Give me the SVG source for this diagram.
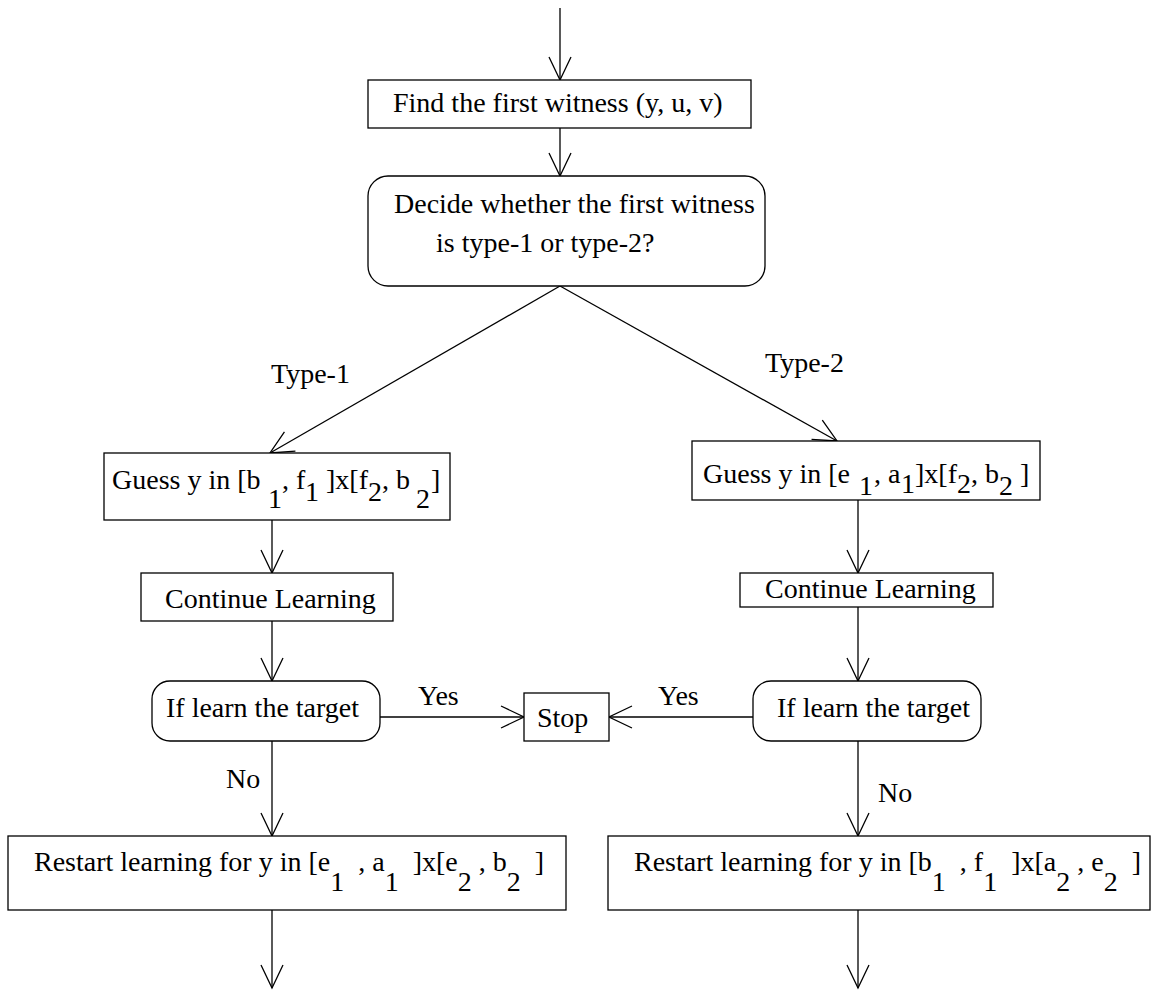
<svg xmlns="http://www.w3.org/2000/svg" width="1159" height="994" viewBox="0 0 1159 994">
<defs>
<marker id="ah" viewBox="-26 -13 28 26" refX="0" refY="0" markerWidth="28" markerHeight="26" markerUnits="userSpaceOnUse" orient="auto">
<path d="M-23,-11 L0,0 L-23,11" fill="none" stroke="#000" stroke-width="1.3"/>
</marker>
<style>
.b{fill:#fff;stroke:#000;stroke-width:1.3}
.t{font-family:"Liberation Serif","Times New Roman",serif;font-size:28px;fill:#000}
.c{fill:none;stroke:#000;stroke-width:1.3;marker-end:url(#ah)}
</style>
</defs>
<rect width="1159" height="994" fill="#fff"/>
<g id="connectors">
<line class="c" x1="560" y1="8" x2="560" y2="80"/>
<line class="c" x1="560" y1="128" x2="560" y2="176"/>
<line class="c" x1="560" y1="286" x2="270" y2="453"/>
<line class="c" x1="560" y1="286" x2="837" y2="441"/>
<line class="c" x1="272" y1="520" x2="272" y2="573"/>
<line class="c" x1="858" y1="500" x2="858" y2="573"/>
<line class="c" x1="272" y1="621" x2="272" y2="681"/>
<line class="c" x1="858" y1="607" x2="858" y2="681"/>
<line class="c" x1="380" y1="717" x2="524" y2="717"/>
<line class="c" x1="753" y1="717" x2="609" y2="717"/>
<line class="c" x1="272" y1="741" x2="272" y2="836"/>
<line class="c" x1="858" y1="741" x2="858" y2="836"/>
<line class="c" x1="272" y1="910" x2="272" y2="988"/>
<line class="c" x1="858" y1="910" x2="858" y2="988"/>
<text class="t" x="271" y="383">Type-1</text>
<text class="t" x="765" y="372">Type-2</text>
<text class="t" x="418" y="705">Yes</text>
<text class="t" x="658" y="705">Yes</text>
<text class="t" x="226" y="788">No</text>
<text class="t" x="878" y="802">No</text>
</g>
<g id="find">
<rect class="b" x="368" y="80" width="383" height="48"/>
<text class="t" x="393" y="112">Find the first witness (y, u, v)</text>
</g>
<g id="decide">
<rect class="b" x="368" y="176" width="397" height="110" rx="20"/>
<text class="t" x="394" y="213">Decide whether the first witness</text>
<text class="t" x="436" y="252">is type-1 or type-2?</text>
</g>
<g id="guess1">
<rect class="b" x="104" y="453" width="346" height="67"/>
<text class="t" y="489" xml:space="preserve"><tspan x="112">Guess y in [b</tspan><tspan x="268" y="508">1</tspan><tspan x="282" y="489">, f</tspan><tspan x="305" y="501">1</tspan><tspan x="319" y="489"> ]x[f</tspan><tspan x="368" y="501">2</tspan><tspan x="382" y="489">, b</tspan><tspan x="416" y="508">2</tspan><tspan x="431" y="489">]</tspan></text>
</g>
<g id="guess2">
<rect class="b" x="692" y="441" width="348" height="59"/>
<text class="t" y="483" xml:space="preserve"><tspan x="703">Guess y in [e</tspan><tspan x="859" y="495">1</tspan><tspan x="874" y="483">, a</tspan><tspan x="901" y="493">1</tspan><tspan x="915" y="483">]x[f</tspan><tspan x="957" y="493">2</tspan><tspan x="971" y="483">, b</tspan><tspan x="999" y="495">2</tspan><tspan x="1013" y="483"> ]</tspan></text>
</g>
<g id="cont1">
<rect class="b" x="141" y="573" width="252" height="48"/>
<text class="t" x="165" y="608">Continue Learning</text>
</g>
<g id="cont2">
<rect class="b" x="740" y="573" width="253" height="34"/>
<text class="t" x="765" y="598">Continue Learning</text>
</g>
<g id="if1">
<rect class="b" x="152" y="681" width="228" height="60" rx="18"/>
<text class="t" x="166" y="717">If learn the target</text>
</g>
<g id="if2">
<rect class="b" x="753" y="681" width="228" height="60" rx="18"/>
<text class="t" x="777" y="717">If learn the target</text>
</g>
<g id="stop">
<rect class="b" x="524" y="693" width="85" height="48"/>
<text class="t" x="537" y="727">Stop</text>
</g>
<g id="restart1">
<rect class="b" x="8" y="836" width="558" height="74"/>
<text class="t" x="34" y="871" xml:space="preserve">Restart learning for y in [e<tspan dy="20">1</tspan><tspan dy="-20">  , a</tspan><tspan dy="20">1</tspan><tspan dy="-20">  ]x[e</tspan><tspan dy="20">2</tspan><tspan dy="-20"> , b</tspan><tspan dy="20">2</tspan><tspan dy="-20">  ]</tspan></text>
</g>
<g id="restart2">
<rect class="b" x="608" y="836" width="542" height="74"/>
<text class="t" x="634" y="871" xml:space="preserve">Restart learning for y in [b<tspan dy="20">1</tspan><tspan dy="-20">  , f</tspan><tspan dy="20">1</tspan><tspan dy="-20">  ]x[a</tspan><tspan dy="20">2</tspan><tspan dy="-20"> , e</tspan><tspan dy="20">2</tspan><tspan dy="-20">  ]</tspan></text>
</g>
</svg>
